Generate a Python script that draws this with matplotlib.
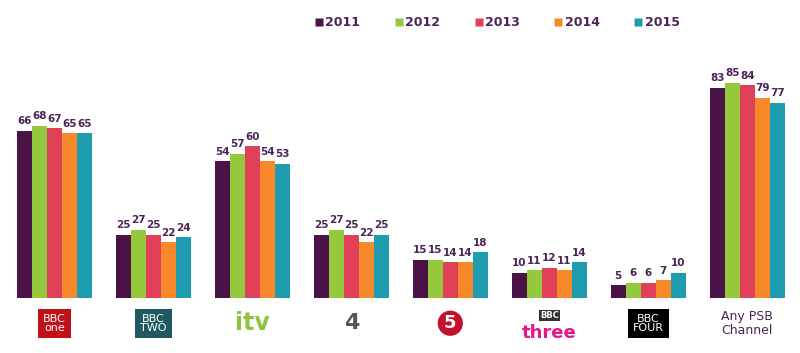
import matplotlib
matplotlib.use("Agg")
import matplotlib.pyplot as plt
import numpy as np
from matplotlib.lines import Line2D

categories = ["BBC One", "BBC Two", "ITV", "Channel 4", "Channel 5", "BBC Three", "BBC Four", "Any PSB\nChannel"]
years = ["2011", "2012", "2013", "2014", "2015"]
v2011 = [66, 25, 54, 25, 15, 10, 5, 83]
v2012 = [68, 27, 57, 27, 15, 11, 6, 85]
v2013 = [67, 25, 60, 25, 14, 12, 6, 84]
v2014 = [65, 22, 54, 22, 14, 11, 7, 79]
v2015 = [65, 24, 53, 25, 18, 14, 10, 77]
series = [v2011, v2012, v2013, v2014, v2015]
colors = ["#4B1248", "#94C83D", "#E04058", "#F7892B", "#1D9DAF"]
label_color = "#4B2455"

fig = plt.figure(figsize=(8.0, 3.53), dpi=100)
ax = fig.add_axes([0.006, 0.156, 0.99, 0.717])

x = np.arange(len(categories))
bw = 0.152
for i, (vals, c) in enumerate(zip(series, colors)):
    xs = x + (i - 2) * bw
    ax.bar(xs, vals, width=bw, color=c, edgecolor="none")
    for xx, v in zip(xs, vals):
        ax.text(xx, v + 1.8, str(v), ha="center", va="bottom", fontsize=7.5,
                fontweight="bold", color=label_color)

ax.set_xlim(-0.5, len(categories) - 0.5)
ax.set_ylim(0, 100)
ax.axis("off")

# category "logos" as text
tr = ax.get_xaxis_transform()
ly = -0.10
def box(xc, txt, fc, tc, fs=9, weight="normal"):
    ax.text(xc, ly, txt, transform=tr, ha="center", va="center", fontsize=fs,
            color=tc, fontweight=weight, linespacing=0.9,
            bbox=dict(boxstyle="square,pad=0.45", fc=fc, ec="none"))

box(0, "BBC\none", "#C0101A", "white", fs=8)
box(1, "BBC\nTWO", "#1F5A60", "white", fs=8)
ax.text(2, ly, "itv", transform=tr, ha="center", va="center", fontsize=17,
        fontweight="bold", color="#8FC33F")
ax.text(3, ly, "4", transform=tr, ha="center", va="center", fontsize=16,
        fontweight="bold", color="#555555")
ax.text(4, ly, "5", transform=tr, ha="center", va="center", fontsize=13,
        fontweight="bold", color="white",
        bbox=dict(boxstyle="circle,pad=0.2", fc="#C4102A", ec="none"))
ax.text(5, ly + 0.03, "BBC", transform=tr, ha="center", va="center", fontsize=6,
        fontweight="bold", color="white",
        bbox=dict(boxstyle="square,pad=0.15", fc="#333333", ec="none"))
ax.text(5, ly - 0.04, "three", transform=tr, ha="center", va="center", fontsize=13,
        fontweight="bold", color="#E5168C")
box(6, "BBC\nFOUR", "black", "white", fs=8)
ax.text(7, ly, "Any PSB\nChannel", transform=tr, ha="center", va="center",
        fontsize=9, color=label_color, linespacing=1.1)

handles = [Line2D([], [], marker="s", linestyle="none", markersize=6,
                  markerfacecolor=c, markeredgecolor="none") for c in colors]
leg = fig.legend(handles, years, loc="center", bbox_to_anchor=(0.62, 0.935), ncol=5,
                 frameon=False, handletextpad=0.0, handlelength=1.0, columnspacing=2.6,
                 prop=dict(weight="bold", size=9))
for t in leg.get_texts():
    t.set_color(label_color)

fig.savefig("out.png", dpi=100)
